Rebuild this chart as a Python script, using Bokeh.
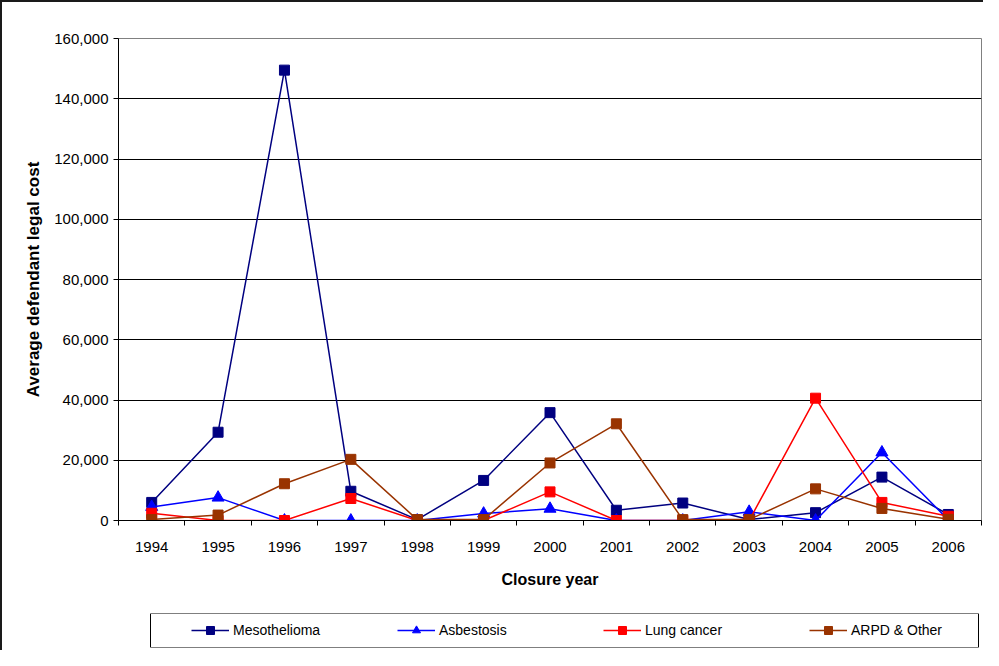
from bokeh.plotting import figure
from bokeh.layouts import column
from bokeh.models import (FixedTicker, NumeralTickFormatter, Range1d, Legend,
                          LegendItem, BoxAnnotation)
from bokeh.embed import file_html
from bokeh.resources import INLINE

# ---------------- data ----------------
years = ["1994", "1995", "1996", "1997", "1998", "1999", "2000",
         "2001", "2002", "2003", "2004", "2005", "2006"]
mesothelioma = [6000, 29300, 149500, 9700, 300, 13300, 35800,
                3400, 5800, 300, 2600, 14400, 2000]
asbestosis = [4500, 7600, 0, 0, 0, 2300, 3900,
              0, 0, 2900, 0, 22600, 200]
lung_cancer = [2400, 0, 0, 7300, 0, 0, 9500,
               0, 0, 0, 40600, 6000, 1400]
arpd_other = [300, 1800, 12200, 20300, 300, 300, 19100,
              32100, 300, 300, 10500, 4000, 400]
y_ticks = [0, 20000, 40000, 60000, 80000, 100000, 120000, 140000, 160000]

series = [
    ("Mesothelioma", mesothelioma, "#000080", "square", 10),
    ("Asbestosis", asbestosis, "#0000FF", "triangle", 12),
    ("Lung cancer", lung_cancer, "#FF0000", "square", 10),
    ("ARPD & Other", arpd_other, "#993300", "square", 10),
]

n = len(years)
xs = [i + 0.5 for i in range(n)]
FONT = "Liberation Sans"

# ---------------- main chart ----------------
p = figure(width=981, height=600, output_backend="svg", toolbar_location=None,
           x_range=Range1d(0, n), y_range=Range1d(0, 160000),
           min_border_left=116, min_border_right=2,
           min_border_top=36, min_border_bottom=82)
p.background_fill_color = "white"
p.border_fill_color = "white"
p.outline_line_color = "#808080"
p.outline_line_width = 1

# x axis (categories centred, ticks on boundaries)
p.xaxis.ticker = FixedTicker(ticks=xs, minor_ticks=list(range(n + 1)))
p.xaxis.major_label_overrides = {x: y for x, y in zip(xs, years)}
p.xaxis.major_tick_out = 0
p.xaxis.major_tick_in = 0
p.xaxis.minor_tick_out = 5
p.xaxis.minor_tick_in = 0
p.xaxis.minor_tick_line_color = "black"
p.xaxis.axis_line_color = "black"
p.xaxis.major_label_standoff = 16
p.xaxis.major_label_text_font = FONT
p.xaxis.major_label_text_font_size = "15px"
p.xaxis.major_label_text_color = "black"
p.xaxis.axis_label = "Closure year"
p.xaxis.axis_label_text_font = FONT
p.xaxis.axis_label_text_font_style = "bold"
p.xaxis.axis_label_text_font_size = "16px"
p.xaxis.axis_label_text_color = "black"
p.xaxis.axis_label_standoff = 16
p.xgrid.visible = False

# y axis
p.yaxis.ticker = FixedTicker(ticks=y_ticks)
p.yaxis.formatter = NumeralTickFormatter(format="0,0")
p.yaxis.major_tick_out = 5
p.yaxis.major_tick_in = 0
p.yaxis.minor_tick_line_color = None
p.yaxis.axis_line_color = "black"
p.yaxis.major_label_standoff = 5
p.yaxis.major_label_text_font = FONT
p.yaxis.major_label_text_font_size = "15px"
p.yaxis.major_label_text_color = "black"
p.yaxis.axis_label = "Average defendant legal cost"
p.yaxis.axis_label_text_font = FONT
p.yaxis.axis_label_text_font_style = "bold"
p.yaxis.axis_label_text_font_size = "17px"
p.yaxis.axis_label_text_color = "black"
p.yaxis.axis_label_standoff = 8
p.ygrid.grid_line_color = "black"
p.ygrid.grid_line_width = 1

for name, vals, col, mk, sz in series:
    p.line(xs, vals, line_color=col, line_width=1.5)
    p.scatter(xs, vals, marker=mk, size=sz, fill_color=col, line_color=col)

# ---------------- legend strip ----------------
# frame spans the same horizontal extent as the main chart (863 px),
# x range in pixel-like units so the legend box can be placed inside it
p2 = figure(width=981, height=48, output_backend="svg", toolbar_location=None,
            x_range=Range1d(0, 863), y_range=Range1d(-20000, -10000),
            x_axis_location=None, y_axis_location=None,
            min_border_left=116, min_border_right=2,
            min_border_top=11, min_border_bottom=3)
p2.grid.visible = False
p2.outline_line_color = None
p2.background_fill_color = "white"
p2.border_fill_color = "white"

box = BoxAnnotation(left=32, right=860, fill_alpha=0,
                    line_color="black", line_width=1, line_alpha=1)
p2.add_layout(box)

items = []
for name, vals, col, mk, sz in series:
    lr = p2.line(xs, vals, line_color=col, line_width=1.5)
    sr = p2.scatter(xs, vals, marker=mk, size=sz, fill_color=col, line_color=col)
    items.append(LegendItem(label=name, renderers=[lr, sr]))

legend = Legend(items=items, location=(73, 7), orientation="horizontal",
                padding=0, margin=0, spacing=44, label_width=120,
                label_height=20, glyph_width=38, glyph_height=20,
                label_standoff=4, border_line_alpha=0,
                background_fill_alpha=0,
                label_text_font=FONT, label_text_font_size="14px",
                label_text_color="black")
p2.add_layout(legend)

layout = column(p, p2, spacing=0,
                styles={"border-top": "2px solid #1a1a1a",
                        "border-left": "2px solid #1a1a1a"})

open("out.html", "w").write(file_html(layout, INLINE))
